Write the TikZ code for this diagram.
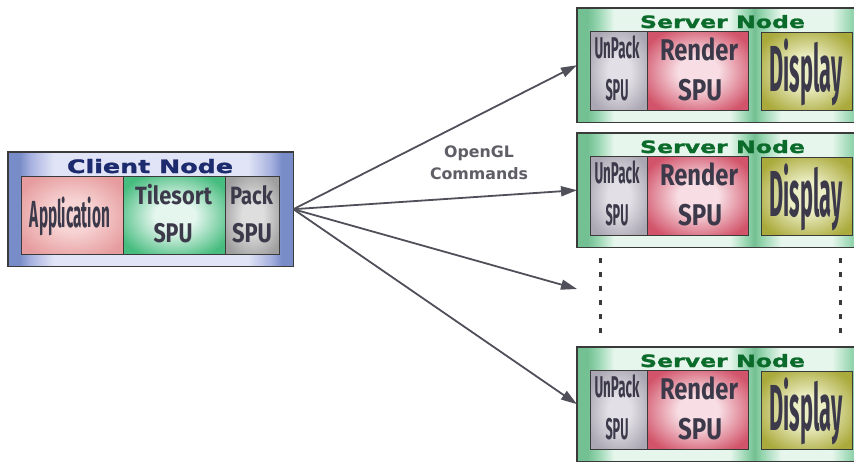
\documentclass[tikz,border=0pt]{standalone}
\usepackage{fontspec}
\usepackage{graphicx}
\setmainfont{Fira Sans}
\newfontfamily\headfont{DejaVu Sans}[BoldFeatures={FakeBold=1.3}]
\newfontfamily\labfont{DejaVu Sans}
\usetikzlibrary{arrows.meta,fadings}

% text of a given width, set at a given size (width squeezed, height kept)
\newcommand{\wfit}[3]{\resizebox{#1}{\height}{\fontsize{#2}{#2}\selectfont #3}}

\definecolor{edgegray}{HTML}{3A3A3A}
\definecolor{inkgray}{HTML}{3C3A4A}
\definecolor{arrowgray}{HTML}{50505A}
\definecolor{labelgray}{HTML}{5E5E66}
\definecolor{navy}{HTML}{1C2A6E}
\definecolor{darkgreen}{HTML}{0B6B2B}

% soft glow inside the coloured boxes
\colorlet{boxin}{white}\colorlet{boxout}{gray}
\pgfdeclareradialshading[boxin,boxout]{softbox}{\pgfpoint{0bp}{0bp}}{%
  color(0bp)=(boxin); color(10bp)=(boxin); color(30bp)=(boxout); color(50bp)=(boxout)}

% frames: dark at the sides, light across the middle
\colorlet{fedge}{blue}\colorlet{fmid}{blue}\colorlet{flight}{white}
\pgfdeclarehorizontalshading[fedge,fmid,flight]{clientfill}{100bp}{%
  color(0bp)=(fedge); color(27bp)=(fedge); color(29bp)=(fmid); color(33bp)=(flight);
  color(67bp)=(flight); color(71bp)=(fmid); color(73bp)=(fedge); color(100bp)=(fedge)}
\pgfdeclarehorizontalshading[fedge,fmid,flight]{serverfill}{100bp}{%
  color(0bp)=(fedge); color(26.8bp)=(fedge); color(28.5bp)=(fmid); color(31.5bp)=(flight);
  color(52bp)=(flight); color(55bp)=(fmid); color(56.3bp)=(fedge); color(57.6bp)=(fmid);
  color(61bp)=(flight); color(70bp)=(flight); color(73.5bp)=(fmid); color(100bp)=(fmid)}

\tikzfading[name=rimfade, top color=transparent!60, middle color=transparent!100,
  bottom color=transparent!60]

\begin{document}
\begin{tikzpicture}[x=1pt,y=-1pt,
  frame/.style={inner sep=0pt, anchor=north west},
  rim/.style={draw=edgegray, line width=1.4pt},
  box/.style={draw=edgegray, line width=1.3pt, inner sep=0pt, anchor=north west},
  soft/.style 2 args={/utils/exec={\colorlet{boxin}{#1}\colorlet{boxout}{#2}}, shading=softbox},
  clientframe/.style={frame, /utils/exec={\definecolor{fedge}{HTML}{1E40A2}\definecolor{fmid}{HTML}{7080CC}\definecolor{flight}{HTML}{CDD3F0}}, shading=clientfill},
  serverframe/.style={frame, /utils/exec={\definecolor{fedge}{HTML}{16964A}\definecolor{fmid}{HTML}{4CB878}\definecolor{flight}{HTML}{D6F1E0}}, shading=serverfill},
  appbox/.style={box, soft={rgb,255:red,247;green,212;blue,212}{rgb,255:red,230;green,156;blue,158}},
  tilebox/.style={box, soft={rgb,255:red,228;green,246;blue,238}{rgb,255:red,70;green,188;blue,126}},
  packbox/.style={box, soft={rgb,255:red,222;green,222;blue,222}{rgb,255:red,158;green,158;blue,158}},
  unpackbox/.style={box, soft={rgb,255:red,226;green,224;blue,230}{rgb,255:red,170;green,166;blue,178}},
  renderbox/.style={box, soft={rgb,255:red,248;green,222;blue,228}{rgb,255:red,210;green,84;blue,106}},
  displaybox/.style={box, soft={rgb,255:red,236;green,238;blue,196}{rgb,255:red,170;green,170;blue,60}},
  txt/.style={anchor=base, inner sep=0pt, text=inkgray, font=\bfseries},
  title/.style={anchor=base, inner sep=0pt, font=\headfont\bfseries},
  flow/.style={draw=arrowgray, line width=1.8pt, -{Triangle[length=16pt,width=10pt]}},
  ellipsis/.style={draw=edgegray, line width=3pt, dash pattern=on 5pt off 9pt}
]
\useasboundingbox (0,0) rectangle (854,463);

% ---- client node ----
\node[clientframe, minimum width=285pt, minimum height=114pt] (client) at (8,152) {};
\fill[white, path fading=rimfade] (client.north west) rectangle (client.south east);
\draw[rim] (client.north west) rectangle (client.south east);
\node[title, text=navy] (clienttitle) at (150,173) {\wfit{166pt}{18.5pt}{Client Node}};
\node[appbox, minimum width=102pt, minimum height=78pt] (app) at (21,176) {};
\node[tilebox, minimum width=102pt, minimum height=78pt] (tile) at (123,176) {};
\node[packbox, minimum width=54pt, minimum height=78pt] (pack) at (225,176) {};
\node[txt] (apptext) at (70,227) {\wfit{80pt}{37.7pt}{Application}};
\node[txt] (tiletext) at (173.5,204) {\wfit{77pt}{25pt}{Tilesort}};
\node[txt] (tilespu) at (173,242) {\wfit{39pt}{27pt}{SPU}};
\node[txt] (packtext) at (251.5,204) {\wfit{43pt}{25pt}{Pack}};
\node[txt] (packspu) at (252,242) {\wfit{40pt}{27pt}{SPU}};

% ---- server nodes ----
\foreach \i/\t in {1/8,2/133,3/347}{
  \node[serverframe, minimum width=283pt, minimum height=114pt] (s\i) at (577,\t) {};
  \fill[white, path fading=rimfade] (s\i.north west) rectangle (s\i.south east);
  \draw[rim] (s\i.north west) rectangle (s\i.south east);
  \node[title, text=darkgreen] (stitle\i) at (722.5,\t+20) {\wfit{165pt}{17pt}{Server Node}};
  \node[unpackbox, minimum width=57pt, minimum height=79pt] (unpack\i) at (590,\t+23) {};
  \node[renderbox, minimum width=101pt, minimum height=79pt] (render\i) at (647,\t+23) {};
  \node[displaybox, minimum width=91pt, minimum height=78pt] (disp\i) at (761,\t+24) {};
  \node[txt] (unpacktext\i) at (617,\t+50) {\wfit{45pt}{30pt}{UnPack}};
  \node[txt] (unpackspu\i) at (617,\t+92) {\wfit{23pt}{30pt}{SPU}};
  \node[txt] (rendertext\i) at (699,\t+52) {\wfit{78pt}{30pt}{Render}};
  \node[txt] (renderspu\i) at (700,\t+92) {\wfit{44pt}{30pt}{SPU}};
  \node[txt] (disptext\i) at (806,\t+83) {\wfit{73pt}{65pt}{Display}};
}

% ---- elided servers ----
\draw[ellipsis] (600,258) -- (600,336);
\draw[ellipsis] (840,258) -- (840,336);

% ---- command stream ----
\coordinate (gap) at (577,289);
\draw[flow] (client.east) -- (s1.west);
\draw[flow] (client.east) -- (s2.west);
\draw[flow] (client.east) -- (gap);
\draw[flow] (client.east) -- (s3.west);

\node[anchor=north, inner sep=0pt, align=center, text=labelgray,
      font=\labfont\bfseries\fontsize{15.8pt}{21.5pt}\selectfont] (cmds) at (479,146) {OpenGL\\Commands};
\end{tikzpicture}
\end{document}
